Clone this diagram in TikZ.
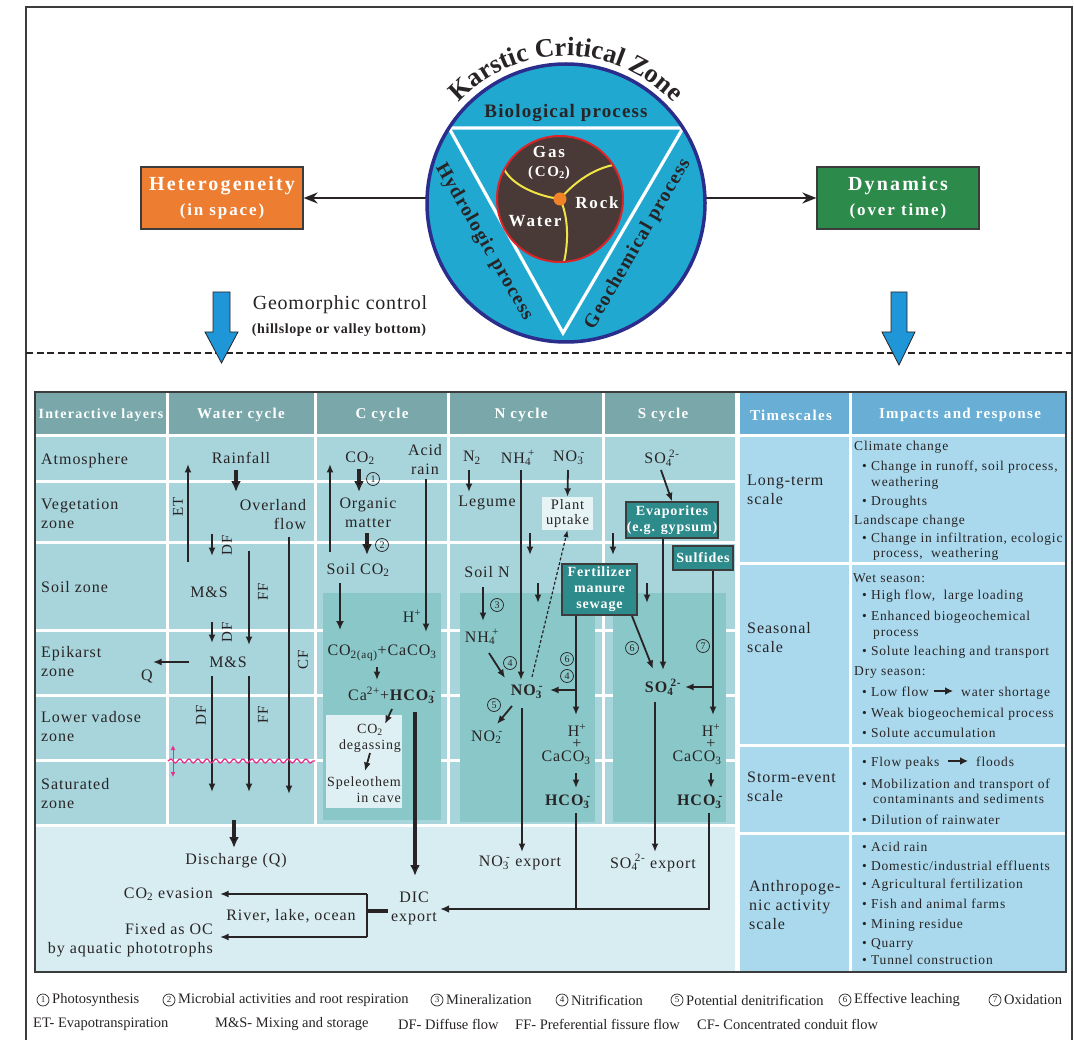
\documentclass[tikz,border=0pt]{standalone}
\usepackage{fontspec}
\setmainfont{Liberation Serif}
\newfontfamily\fBody[LetterSpace=6]{Liberation Serif}
\newfontfamily\fHead[LetterSpace=9]{Liberation Serif}
\newfontfamily\fWide[LetterSpace=11]{Liberation Serif}
\newfontfamily\fSpc[LetterSpace=6]{Liberation Serif}
\newfontfamily\fMsp[LetterSpace=4]{Liberation Serif}
\newfontfamily\fLeg{Liberation Serif}
\usetikzlibrary{arrows.meta,decorations.text,decorations.pathmorphing,calc}
\definecolor{txtc}{RGB}{40,36,37}
\definecolor{bordc}{RGB}{60,60,60}
\definecolor{hdrL}{RGB}{122,168,170}
\definecolor{cellL}{RGB}{168,213,220}
\definecolor{shadeC}{RGB}{137,199,200}
\definecolor{botL}{RGB}{216,237,242}
\definecolor{lightbx}{RGB}{222,240,243}
\definecolor{lightbx2}{RGB}{230,244,245}
\definecolor{tealc}{RGB}{46,139,140}
\definecolor{rhdr}{RGB}{104,174,213}
\definecolor{rcell}{RGB}{170,217,238}
\definecolor{cblue}{RGB}{33,168,208}
\definecolor{navyc}{RGB}{43,45,140}
\definecolor{redc}{RGB}{220,35,40}
\definecolor{brownc}{RGB}{74,58,55}
\definecolor{yellowc}{RGB}{240,228,70}
\definecolor{orangec}{RGB}{240,130,40}
\definecolor{hetc}{RGB}{237,125,49}
\definecolor{dync}{RGB}{44,138,74}
\definecolor{arrblue}{RGB}{30,150,215}
\definecolor{pinkc}{RGB}{230,50,140}
\newcommand{\ionx}[2]{\textsubscript{#1}\kern-0.18em\textsuperscript{#2}}
\begin{document}
\begin{tikzpicture}[x=1pt,y=-1pt,
 tx/.style={font=\fBody\fontsize{16}{19}\selectfont, text=txtc, inner sep=0pt, align=center},
 txs/.style={font=\fBody\fontsize{14}{16}\selectfont, text=txtc, inner sep=0pt, align=center},
 txb/.style={font=\fBody\bfseries\fontsize{16}{19}\selectfont, text=txtc, inner sep=0pt},
 vlab/.style={font=\fBody\fontsize{15}{17}\selectfont, text=txtc, inner sep=0pt, rotate=90},
 imp/.style={font=\fBody\fontsize{13.5}{16}\selectfont, text=txtc, inner sep=0pt, anchor=base west},
 hdr/.style={font=\fHead\bfseries\fontsize{15}{18}\selectfont, text=white, inner sep=0pt},
 tealbox/.style={draw=bordc, fill=tealc, line width=1.2pt, text=white, font=\fBody\bfseries\fontsize{14}{16}\selectfont, align=center, inner sep=0pt},
 cnum/.style={circle, draw=txtc, line width=0.7pt, inner sep=0pt, minimum size=13pt, font=\fontsize{10}{10}\selectfont, text=txtc},
 lgt/.style={font=\fLeg\fontsize{14.5}{16}\selectfont, text=txtc, inner sep=0pt},
 arr/.style={draw=txtc, line width=1.8pt, -{Latex[length=8.5pt,width=7pt]}},
 marr/.style={draw=txtc, line width=2.4pt, -{Latex[length=9pt,width=8pt]}},
 tarr/.style={draw=txtc, line width=3.6pt, -{Latex[length=11pt,width=10pt]}},
 ln/.style={draw=txtc, line width=2.2pt},
 wl/.style={draw=white, line width=3pt},
 topbox/.style={draw=bordc, line width=1.2pt, minimum width=162pt, minimum height=62pt, inner sep=0pt},
 boxtxtA/.style={font=\fWide\bfseries\fontsize{20}{22}\selectfont, text=white, inner sep=0pt},
 boxtxtB/.style={font=\fWide\bfseries\fontsize{17}{19}\selectfont, text=white, inner sep=0pt},
 coretxt/.style={font=\fWide\bfseries\fontsize{17}{19}\selectfont, text=white, inner sep=0pt},
 proc/.style={font=\fSpc\bfseries\fontsize{19.5}{21}\selectfont, text=txtc, inner sep=0pt}
]
\fill[white] (0,0) rectangle (1074,1040);
\useasboundingbox (0,0) rectangle (1074,1040);

% ---------- frame and separator ----------
\draw[bordc, line width=1.4pt] (26,1050) -- (26,7) -- (1072,7) -- (1072,1050);
\draw[txtc, line width=2.2pt, dash pattern=on 7pt off 3.5pt] (26,353) -- (1072,353);

% ---------- top boxes ----------
\node[topbox, fill=hetc] (het) at (222,198) {};
\node[boxtxtA] (hetA) at (222,186) {Heterogeneity};
\node[boxtxtB] (hetB) at (222,211) {(in space)};
\node[topbox, fill=dync] (dyn) at (898,198) {};
\node[boxtxtA] (dynA) at (898,186) {Dynamics};
\node[boxtxtB] (dynB) at (898,211) {(over time)};

% ---------- circle ----------
\node[circle, fill=cblue, minimum size=278pt, inner sep=0pt] (kcz) at (566,203) {};
\draw[txtc, line width=2pt, -{Stealth[length=14pt,width=11pt]}] (kcz.west |- het.east) -- (het.east);
\draw[txtc, line width=2pt, -{Stealth[length=14pt,width=11pt]}] (kcz.east |- dyn.west) -- (dyn.west);
\draw[white, line width=3.2pt, line join=miter] (449,128) -- (683,128) -- (563,333) -- cycle;
\node[circle, fill=brownc, minimum size=126pt, inner sep=0pt] (core) at (560,199) {};
\draw[yellowc, line width=2pt] (core.center) .. controls (537,196) and (512,185) .. (504,169);
\draw[yellowc, line width=2pt] (core.center) .. controls (572,185) and (590,170) .. (613,165);
\draw[yellowc, line width=2pt] (core.center) .. controls (568,215) and (569,240) .. (564,262);
\draw[redc, line width=2pt] (core.center) circle[radius=63];
\fill[orangec] (core.center) circle[radius=6.5];
\draw[navyc, line width=3.5pt] (kcz.center) circle[radius=139];
\node[coretxt] (gas) at (549,152) {Gas};
\node[coretxt, font=\fWide\bfseries\fontsize{15}{17}\selectfont] (co2g) at (549,173) {(CO\textsubscript{2})};
\node[coretxt] (rock) at (597,203) {Rock};
\node[coretxt] (water) at (535,221) {Water};
\node[proc, font=\fSpc\bfseries\fontsize{19}{21}\selectfont] (bio) at (566,113) {Biological process};
\node[proc, rotate=-60] (hyd) at (484,242) {Hydrologic process};
\node[proc, rotate=60] (geoc) at (638,244) {Geochemical process};
\path[decorate, decoration={text along path, text={|\bfseries\fontsize{26.5}{26.5}\selectfont|Karstic Critical Zone}, text align=center, text color=txtc}]
  ($(kcz.center)+(208:147)$) arc[start angle=208, end angle=332, radius=147];

% ---------- geomorphic control & blue arrows ----------
\node[font=\fMsp\fontsize{20}{22}\selectfont, text=txtc, inner sep=0pt] (geo) at (340,305) {Geomorphic control};
\node[font=\fMsp\bfseries\fontsize{14}{16}\selectfont, text=txtc, inner sep=0pt] (geos) at (339,330) {(hillslope or valley bottom)};
\filldraw[fill=arrblue, draw=txtc, line width=0.8pt] (213,292) -- (230,292) -- (230,332) -- (238,332) -- (221.5,363) -- (205,332) -- (213,332) -- cycle;
\filldraw[fill=arrblue, draw=txtc, line width=0.8pt] (891,292) -- (907,292) -- (907,332) -- (915,332) -- (899,365) -- (882,332) -- (891,332) -- cycle;

% ---------- table backgrounds ----------
\fill[cellL] (35,436) rectangle (735,825);
\fill[hdrL] (35,392) rectangle (735,436);
\fill[botL] (35,825) rectangle (735,972);
\foreach \yy in {436,481,542,630,695,760,825} \draw[wl] (35,\yy) -- (735,\yy);
\foreach \xx in {167,315,448,603} \draw[wl] (\xx,392) -- (\xx,825);
\fill[rcell] (740,436) rectangle (1066,972);
\fill[rhdr] (740,392) rectangle (1066,436);
\foreach \yy in {436,563,745,833} \draw[wl] (740,\yy) -- (1066,\yy);
\draw[wl] (850,392) -- (850,972);
\fill[white] (735,392) rectangle (740,972);
\fill[shadeC] (323,593) rectangle (441,820);
\fill[shadeC] (460,593) rectangle (595,822);
\fill[shadeC] (613,593) rectangle (726,822);
\fill[lightbx] (326,715) rectangle (402,808);
\draw[bordc, line width=2.2pt] (35,392) rectangle (1066,972);

% ---------- headers ----------
\node[hdr, font=\fHead\bfseries\fontsize{14}{16}\selectfont] (h1) at (101,415) {Interactive layers};
\node[hdr] (h2) at (241,415) {Water cycle};
\node[hdr] (h3) at (382,415) {C cycle};
\node[hdr] (h4) at (521,415) {N cycle};
\node[hdr] (h5) at (663,415) {S cycle};
\node[hdr] (h6) at (791,415) {Timescales};
\node[hdr] (h7) at (960,415) {Impacts and response};

% ---------- row labels ----------
\node[tx, anchor=west, align=left] (l1) at (41,461) {Atmosphere};
\node[tx, anchor=west, align=left] (l2) at (41,513.5) {Vegetation\\zone};
\node[tx, anchor=west, align=left] (l3) at (41,587) {Soil zone};
\node[tx, anchor=west, align=left] (l4) at (41,661.5) {Epikarst\\zone};
\node[tx, anchor=west, align=left] (l5) at (41,726.5) {Lower vadose\\zone};
\node[tx, anchor=west, align=left] (l6) at (41,793.5) {Saturated\\zone};

% ---------- coordinates ----------
\foreach \nm/\a/\b in {
 w1/236/470, w2/236/492, et1/188/562, et2/188/464, df1a/212/534, df1b/212/556,
 ff1a/249/551, ff1b/249/645, cfa/289/537, cfb/289/794, df2a/212/622, df2b/212/643,
 qa/189/662, qb/153/662, df3a/212/676, df3b/212/792, ff2a/249/676, ff2b/249/792,
 dsa/234/820, dsb/234/848,
 c1a/359/469, c1b/359/492, cua/330/552, cub/330/464, ara/426/479, arb/426/632,
 c2a/367/533, c2b/367/555, c3a/340/583, c3b/340/630, c4a/377/667, c4b/377/680,
 c5a/392/709, c5b/385/724, c6a/370/753, c6b/365/771, dica/415/712, dicb/415/876,
 n1a/469/470, n1b/469/492, n2a/521/470, n2b/521/680, n3a/568/470,
 n4a/530/533, n4b/530/555, n5a/538/583, n5b/538/603, n6a/483/587, n6b/483/621,
 n7a/489/653, n7b/505/678, n8a/532/677, n9a/512/706, n9b/497/724,
 nea/522/708, neb/522/852, nfj/576/690, nfk/550/690, nfh/576/715,
 nca/576/773, ncb/576/788, nha/576/813, nhj/576/909,
 s1a/661/470, s3a/613/533, s3b/613/555, s4a/647/583, s4b/647/603,
 s5b/663/670, s6a/632/616, s6b/653/669, s7j/713/687, s7k/685/687, s7h/713/715,
 sca/711/773, scb/711/788, sha/709/813, shj/709/909, sea/655/702, seb/655/852,
 rj0/367/911, rj1/367/894, rj2/367/937, rje/220/894, rjf/220/937,
 lfa/934/691, lfb/953/691, fpa/948/761, fpb/968/761,
 pwa/168/761, pwb/315/761, ppa/173/745, ppb/173/777}
 {\coordinate (\nm) at (\a,\b);}

% ---------- water cycle ----------
\node[tx] (rain) at (241,458) {Rainfall};
\node[tx, align=right] (olf) at (273,515) {Overland\\flow};
\node[tx] (ms1) at (209,592) {M\&S};
\node[tx] (ms2) at (228,662) {M\&S};
\node[tx] (qq) at (147,676) {Q};
\node[vlab] (lET) at (178,507) {ET};
\node[vlab] (lDF1) at (227,545) {DF};
\node[vlab] (lFF1) at (263,592) {FF};
\node[vlab] (lCF) at (303,660) {CF};
\node[vlab] (lDF2) at (227,632) {DF};
\node[vlab] (lDF3) at (201,715) {DF};
\node[vlab] (lFF2) at (263,715) {FF};
\draw[tarr] (w1) -- (w2);
\draw[arr] (et1) -- (et2);
\draw[arr] (df1a) -- (df1b);
\draw[arr] (ff1a) -- (ff1b);
\draw[arr] (cfa) -- (cfb);
\draw[arr] (df2a) -- (df2b);
\draw[arr] (qa) -- (qb);
\draw[arr] (df3a) -- (df3b);
\draw[arr] (ff2a) -- (ff2b);
\draw[pinkc, line width=1.3pt, decorate, decoration={snake, amplitude=2pt, segment length=9pt}] (pwa) -- (pwb);
\draw[pinkc, line width=1pt, {Latex[length=5pt,width=5pt]}-{Latex[length=5pt,width=5pt]}] (ppa) -- (ppb);

% ---------- C cycle ----------
\node[tx] (cco2) at (360,458) {CO\textsubscript{2}};
\node[tx] (acid) at (425,460) {Acid\\rain};
\node[tx] (hpc) at (412,616) {H\textsuperscript{+}};
\node[tx] (orgm) at (368,512.5) {Organic\\matter};
\node[tx] (sco2) at (358,570) {Soil CO\textsubscript{2}};
\node[tx] (aq) at (382,653) {CO\textsubscript{2(aq)}+CaCO\textsubscript{3}};
\node[tx] (cahc) at (392,695) {Ca\textsuperscript{2+}+\textbf{HCO\ionx{3}{-}}};
\node[txs] (degas) at (370,738) {CO\textsubscript{2}\\degassing};
\node[txs, align=right] (spel) at (364,790) {Speleothem\\in cave};
\node[cnum] (k1) at (373,479) {1};
\node[cnum] (k2) at (382,545) {2};
\draw[tarr] (c1a) -- (c1b);
\draw[arr] (cua) -- (cub);
\draw[arr] (ara) -- (arb);
\draw[tarr] (c2a) -- (c2b);
\draw[marr] (c3a) -- (c3b);
\draw[arr] (c4a) -- (c4b);
\draw[arr] (c5a) -- (c5b);
\draw[arr] (c6a) -- (c6b);

% ---------- N cycle ----------
\node[tx] (nn2) at (472,458) {N\textsubscript{2}};
\node[tx] (nnh4) at (518,458) {NH\ionx{4}{+}};
\node[tx] (nno3) at (569,458) {NO\ionx{3}{-}};
\node[tx] (leg) at (487,503) {Legume};
\node[fill=lightbx2, minimum width=51pt, minimum height=33pt, inner sep=0pt, font=\fBody\fontsize{14.5}{15}\selectfont, text=txtc, align=center] (pu) at (567.5,513.5) {Plant\\uptake};
\node[tx] (soiln) at (487,572) {Soil N};
\node[tx] (nh4b) at (482,637) {NH\ionx{4}{+}};
\node[txb] (no3b) at (527,692) {NO\ionx{3}{-}};
\node[tx] (no2) at (487,737) {NO\ionx{2}{-}};
\node[tealbox, minimum width=75pt, minimum height=51pt] (fert) at (599.5,589.5) {Fertilizer\\manure\\sewage};
\node[tx] (nhp) at (577,730) {H\textsuperscript{+}};
\node[tx] (npl) at (577,744) {+};
\node[tx] (ncac) at (566,758) {CaCO\textsubscript{3}};
\node[txb] (nhco) at (568,802) {HCO\ionx{3}{-}};
\node[tx] (nexp) at (520,863) {NO\ionx{3}{-} export};
\node[cnum] (k3) at (497,605) {3};
\node[cnum] (k4a) at (510,663) {4};
\node[cnum] (k5) at (494,705) {5};
\node[cnum] (k6a) at (567,659) {6};
\node[cnum] (k4b) at (567,676) {4};
\draw[arr] (n1a) -- (n1b);
\draw[arr] (n2a) -- (n2b);
\draw[arr] (n3a) -- (pu.north);
\draw[arr] (n4a) -- (n4b);
\draw[arr] (n5a) -- (n5b);
\draw[arr] (n6a) -- (n6b);
\draw[arr] (n7a) -- (n7b);
\draw[draw=txtc, line width=1.2pt, dash pattern=on 3pt off 2pt, -{Latex[length=7pt,width=5.5pt]}] (n8a) -- (pu.south);
\draw[arr] (n9a) -- (n9b);
\draw[arr] (nea) -- (neb);
\draw[arr] (fert.south -| nfh) -- (nfh);
\draw[arr] (nfj) -- (nfk);
\draw[arr] (nca) -- (ncb);

% ---------- S cycle ----------
\node[tx] (sso4) at (662,458) {SO\ionx{4}{2-}};
\node[tealbox, minimum width=92pt, minimum height=36pt] (evap) at (672,520) {Evaporites\\(e.g. gypsum)};
\node[tealbox, minimum width=60pt, minimum height=24pt] (sulf) at (703,558) {Sulfides};
\node[txb] (so4b) at (663,687) {SO\ionx{4}{2-}};
\node[tx] (shp) at (711,730) {H\textsuperscript{+}};
\node[tx] (spl) at (711,744) {+};
\node[tx] (scac) at (697,758) {CaCO\textsubscript{3}};
\node[txb] (shco) at (700,802) {HCO\ionx{3}{-}};
\node[tx] (sexp) at (653,863) {SO\ionx{4}{2-} export};
\node[cnum] (k6b) at (632,648) {6};
\node[cnum] (k7) at (703,646) {7};
\draw[arr] (s1a) -- (evap.north);
\draw[arr] (s3a) -- (s3b);
\draw[arr] (s4a) -- (s4b);
\draw[arr] (evap.south -| s5b) -- (s5b);
\draw[arr] (s6a) -- (s6b);
\draw[arr] (sulf.south -| s7h) -- (s7h);
\draw[arr] (s7j) -- (s7k);
\draw[arr] (sca) -- (scb);
\draw[arr] (sea) -- (seb);

% ---------- bottom ----------
\node[tx, inner sep=3pt] (dic) at (414,908) {DIC\\export};
\node[tx] (disq) at (236,861) {Discharge (Q)};
\node[tx, anchor=east] (evas) at (213,894) {CO\textsubscript{2} evasion};
\node[tx, anchor=east, align=right] (fixoc) at (213,940) {Fixed as OC\\by aquatic phototrophs};
\node[tx] (rlo) at (291,916) {River, lake, ocean};
\draw[tarr] (dsa) -- (dsb);
\draw[tarr] (dica) -- (dicb);
\draw[ln] (nha) -- (nhj);
\draw[ln, -{Latex[length=9pt,width=7.5pt]}] (sha) -- (shj) -- (dic.east |- shj);
\draw[txtc, line width=3.2pt] (dic.west |- rj0) -- (rj0);
\draw[ln] (rj1) -- (rj2);
\draw[arr] (rj1) -- (rje);
\draw[arr] (rj2) -- (rjf);

% ---------- right table ----------
\node[tx, anchor=west, align=left] (ts1) at (747,490) {Long-term\\scale};
\node[tx, anchor=west, align=left] (ts2) at (747,637.5) {Seasonal\\scale};
\node[tx, anchor=west, align=left] (ts3) at (747,786.5) {Storm-event\\scale};
\node[tx, anchor=west, align=left] (ts4) at (749,905) {Anthropoge-\\nic activity\\scale};
\foreach \xx/\yy/\txt [count=\i] in {854/446/{Climate change}, 862/466/{• Change in runoff, soil process,}, 871/481/{weathering}, 862/500/{• Droughts}, 854/519/{Landscape change}, 862/537/{• Change in infiltration, ecologic}, 873/552/{process,\ \ weathering}, 853/577/{Wet season:}, 862/594/{• High flow,\ \ large loading}, 862/615/{• Enhanced biogeochemical}, 873/631/{process}, 862/650/{• Solute leaching and transport}, 854/670/{Dry season:}, 862/691/{• Low flow}, 961/691/{water shortage}, 862/712/{• Weak biogeochemical process}, 862/732/{• Solute accumulation}, 862/761/{• Flow peaks}, 976/761/{floods}, 862/783/{• Mobilization and transport of}, 873/798/{contaminants and sediments}, 862/819/{• Dilution of rainwater}, 862/846/{• Acid rain}, 862/865/{• Domestic/industrial effluents}, 862/883/{• Agricultural fertilization}, 862/903/{• Fish and animal farms}, 862/923/{• Mining residue}, 862/942/{• Quarry}, 862/959/{• Tunnel construction}}
 {\node[imp] (im\i) at (\xx,\yy+5) {\txt};}
\draw[txtc, line width=2.2pt, -{Latex[length=8pt,width=8pt]}] (lfa) -- (lfb);
\draw[txtc, line width=2.2pt, -{Latex[length=8pt,width=8pt]}] (fpa) -- (fpb);

% ---------- legend ----------
\foreach \xx/\dg/\txt [count=\i] in {37/1/Photosynthesis, 163/2/{Microbial activities and root respiration}, 431/3/Mineralization, 556/4/Nitrification, 671/5/{Potential denitrification}, 839/6/{Effective leaching}, 989/7/Oxidation}
 {\node[cnum, minimum size=12pt, font=\fontsize{9}{9}\selectfont] (lg\i) at (\xx+6,1000) {\dg};
  \node[lgt, anchor=west] (lgt\i) at (\xx+15,1000) {\txt};}
\foreach \xx/\txt [count=\i] in {33/{ET- Evapotranspiration}, 215/{M\&S- Mixing and storage}, 398/{DF- Diffuse flow}, 515/{FF- Preferential fissure flow}, 697/{CF- Concentrated conduit flow}}
 {\node[lgt, anchor=west] (lgb\i) at (\xx,1024) {\txt};}
\end{tikzpicture}
\end{document}
